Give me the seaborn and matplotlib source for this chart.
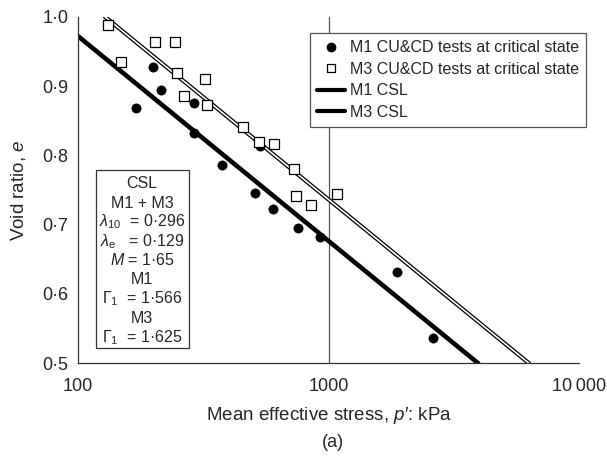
import matplotlib
matplotlib.use("Agg")
import matplotlib.pyplot as plt
import seaborn as sns
import pandas as pd
from matplotlib.lines import Line2D
from matplotlib.patches import Rectangle

# ---- data ----
m1_p = [170, 199, 214, 291, 289, 375, 530, 508, 599, 754, 925, 1868, 2597]
m1_e = [0.869, 0.928, 0.894, 0.876, 0.832, 0.786, 0.813, 0.746, 0.722, 0.695, 0.682, 0.631, 0.537]
m3_p = [132, 148, 203, 244, 248, 321, 266, 327, 454, 528, 605, 730, 743, 851, 1078]
m3_e = [0.988, 0.934, 0.963, 0.963, 0.919, 0.910, 0.886, 0.873, 0.841, 0.819, 0.817, 0.780, 0.741, 0.729, 0.744]
m1_csl_p = [100, 3950]
m1_csl_e = [0.972, 0.5]
m3_csl_p = [128, 6300]
m3_csl_e = [1.0, 0.5]
y_ticks = [0.5, 0.6, 0.7, 0.8, 0.9, 1.0]
y_ticklabels = ["0·5", "0·6", "0·7", "0·8", "0·9", "1·0"]
x_ticks = [100, 1000, 10000]
x_ticklabels = ["100", "1000", "10\u2009000"]
legend_labels = ["M1 CU&CD tests at critical state", "M3 CU&CD tests at critical state", "M1 CSL", "M3 CSL"]
box_lines = ["CSL", "M1 + M3", r"$\lambda_{10}$  = 0·296", r"$\lambda_{\rm e}$   = 0·129",
             r"$M$ = 1·65", "M1", r"$\Gamma_1$  = 1·566", "M3", r"$\Gamma_1$  = 1·625"]

sns.set_style("white")
plt.rcParams['font.family'] = ['Liberation Sans', 'DejaVu Sans']
plt.rcParams['mathtext.fontset'] = 'custom'
plt.rcParams['mathtext.rm'] = 'Liberation Sans'
plt.rcParams['mathtext.it'] = 'Liberation Sans:italic'
plt.rcParams['mathtext.bf'] = 'Liberation Sans:bold'

W, H = 607, 457
fig = plt.figure(figsize=(W / 100, H / 100), dpi=100)
ax = fig.add_axes([78 / W, 1 - 363.3 / H, (579.3 - 78) / W, (363.3 - 16.7) / H])

ax.axvline(1000, color='#555555', lw=0.9, zorder=1)

df1 = pd.DataFrame({"p": m1_csl_p, "e": m1_csl_e})
df3 = pd.DataFrame({"p": m3_csl_p, "e": m3_csl_e})
sns.lineplot(data=df1, x="p", y="e", ax=ax, color='black', lw=3.3, estimator=None, zorder=2)
sns.lineplot(data=df3, x="p", y="e", ax=ax, color='black', lw=3.0, estimator=None, zorder=2)
sns.lineplot(data=df3, x="p", y="e", ax=ax, color='white', lw=1.2, estimator=None, zorder=2.1)

sns.scatterplot(x=m1_p, y=m1_e, ax=ax, marker='o', s=44, color='black', edgecolor='black',
                linewidth=0.5, zorder=3)
sns.scatterplot(x=m3_p, y=m3_e, ax=ax, marker='s', s=52, facecolor='white', edgecolor='black',
                linewidth=0.9, zorder=4)

ax.set_xscale('log')
ax.set_xlim(100, 10000)
ax.set_ylim(0.5, 1.0)
ax.set_xticks(x_ticks)
ax.set_xticklabels(x_ticklabels, fontsize=13)
ax.xaxis.set_minor_locator(matplotlib.ticker.NullLocator())
ax.set_yticks(y_ticks)
ax.set_yticklabels(y_ticklabels, fontsize=13)
ax.tick_params(direction='out', length=4, width=0.8, color='#333333')
ax.tick_params(axis='x', pad=6.5)
ax.tick_params(axis='y', pad=3)
for s in ['top', 'right']:
    ax.spines[s].set_visible(False)
for s in ['left', 'bottom']:
    ax.spines[s].set_color('#333333')
    ax.spines[s].set_linewidth(0.9)

ax.set_xlabel("Mean effective stress, $p$′: kPa", fontsize=13.5, labelpad=7)
ax.set_ylabel("Void ratio, $e$", fontsize=13.5, labelpad=10)
fig.text(333 / W, 1 - 442.3 / H, "(a)", ha='center', va='center', fontsize=13)

handles = [
    Line2D([], [], ls='none', marker='o', color='black', markersize=6),
    Line2D([], [], ls='none', marker='s', markerfacecolor='white', markeredgecolor='black',
           markersize=6, markeredgewidth=0.9),
    Line2D([], [], color='black', lw=3),
    Line2D([], [], color='black', lw=3),
]
leg = fig.legend(handles, legend_labels, loc='upper left',
                 bbox_to_anchor=(310 / W, 1 - 33.3 / H), fontsize=11.5,
                 frameon=True, fancybox=False, edgecolor='#555555', framealpha=1,
                 borderaxespad=0, handlelength=1.75, handletextpad=0.3,
                 labelspacing=0.4, borderpad=0.45)
leg.get_frame().set_linewidth(0.9)

# text box
fig.patches.append(Rectangle((95.7 / W, 1 - 347.7 / H), (189 - 95.7) / W, (347.7 - 170) / H,
                             transform=fig.transFigure, facecolor='white', edgecolor='#333333',
                             lw=0.9, zorder=5))
for i, t in enumerate(box_lines):
    fig.text(142 / W, 1 - (188.3 + 19.2 * i) / H, t, ha='center', va='baseline',
             fontsize=11.5, zorder=6)

fig.savefig("out.png", dpi=100)
